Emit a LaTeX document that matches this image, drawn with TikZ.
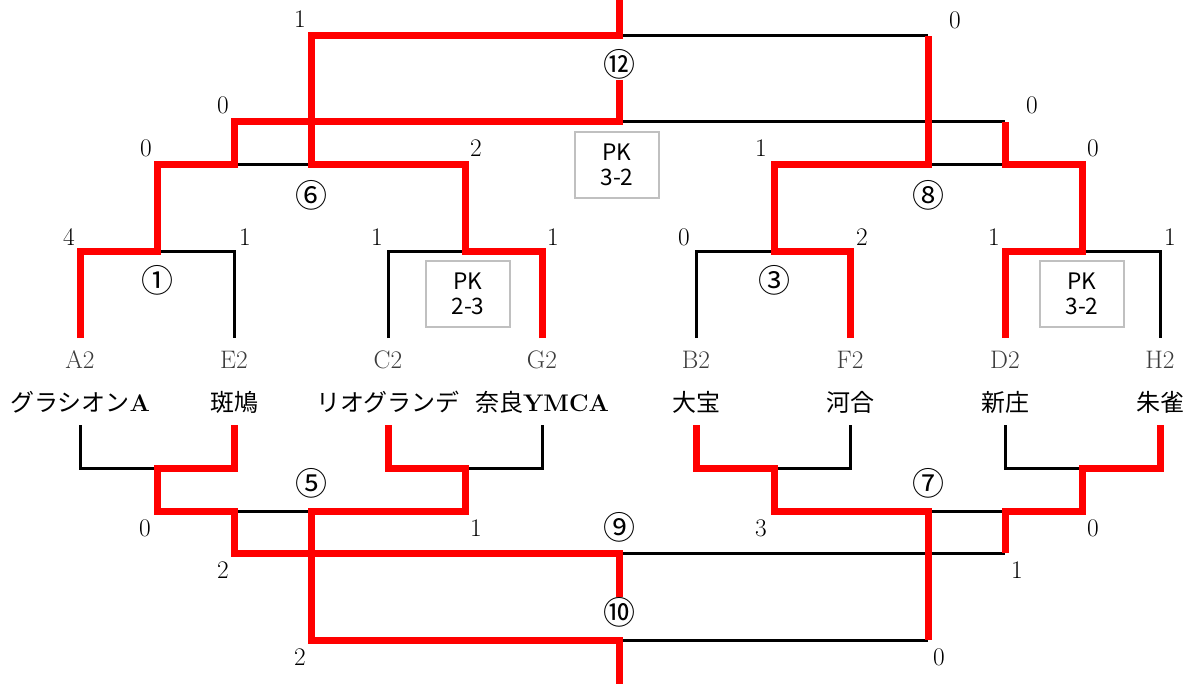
\documentclass[tikz,border=0pt]{standalone}
\usepackage{fontspec}
\usepackage{xcolor}
\usepackage{tikz}
\newfontfamily\jpfont{Noto Sans CJK JP}
\definecolor{winRed}{RGB}{255, 0, 0}
\definecolor{boxGray}{RGB}{192, 192, 192}
\definecolor{codeGray}{RGB}{60, 60, 60}
\newcommand{\latn}[1]{{\rmfamily\bfseries #1}}

\begin{document}
\begin{tikzpicture}[x=0.75pt, y=-0.75pt, line join=miter,
    lose/.style={line width=2.25pt, black},
    win/.style={line width=5.25pt, winRed},
    score/.style={inner sep=0pt, font=\fontsize{19}{19}\selectfont},
    code/.style={inner sep=0pt, text=codeGray, font=\fontsize{19}{19}\selectfont},
    team/.style={inner sep=0pt, font=\jpfont\fontsize{18}{18}\selectfont},
    matchno/.style={inner sep=0pt, font=\jpfont\fontsize{24}{24}\selectfont},
    pkbox/.style={draw=boxGray, line width=1.5pt, align=center, inner sep=0pt,
        minimum width=63pt, minimum height=50pt,
        font=\jpfont\fontsize{17}{19}\selectfont}]
\useasboundingbox (0,0) rectangle (1192,684);

% Teams
\foreach \x/\c/\t [count=\i] in {80/A2/グラシオン\latn{A}, 234/E2/斑鳩, 388/C2/リオグランデ,
    542/G2/奈良\latn{YMCA}, 696/B2/大宝, 850/F2/河合, 1005/D2/新庄, 1160/H2/朱雀} {
    \node[code] (code\i) at (\x,360) {\c};
    \node[team] (team\i) at (\x,402) {\t};
}

% Bracket lines
\foreach \a/\b in {80/234, 388/542, 696/850, 1005/1160} {
    \draw[lose] (\a,338) |- (\b,252) -- (\b,338);
    \draw[lose] (\a,425) |- (\b,468) -- (\b,425);
}
\draw[lose] (157,165) -- (465,165);
\draw[lose] (774,165) -- (1082,165);
\draw[lose] (234,122) -- (1005,122);
\draw[lose] (311,36) -- (928,36);
\draw[lose] (157,511) -- (465,511);
\draw[lose] (774,511) -- (1082,511);
\draw[lose] (234,553) -- (1005,553);
\draw[lose] (311,640) -- (928,640);

% Winners (top)
\draw[win] (80,338) |- (157,252) -- (157,165) -- (234,165) -- (234,122) -- (619,122) -- (619,80);
\draw[win] (542,338) |- (465,252) -- (465,165) -- (311,165) -- (311,36) -- (619,36) -- (619,0);
\draw[win] (850,338) |- (774,252) -- (774,165) -- (928,165) -- (928,36);
\draw[win] (1005,338) |- (1082,252) -- (1082,165) -- (1005,165) -- (1005,122);

% Winners (bottom)
\draw[win] (234,425) |- (157,468) -- (157,511) -- (234,511) -- (234,553) -- (619,553) -- (619,597);
\draw[win] (388,425) |- (465,468) -- (465,511) -- (311,511) -- (311,640) -- (619,640) -- (619,684);
\draw[win] (696,425) |- (774,468) -- (774,511) -- (928,511) -- (928,640);
\draw[win] (1160,425) |- (1082,468) -- (1082,511) -- (1005,511) -- (1005,553);

% Scores
\foreach \x/\y/\s [count=\i] in {300/19/1, 955/20/0, 223/105/0, 1032/105/0,
    146/148/0, 476/148/2, 761/148/1, 1093/148/0,
    69/237/4, 245/237/1, 377/237/1, 553/237/1, 684/237/0, 862/237/2, 994/237/1, 1170/237/1,
    145/528/0, 476/528/1, 761/528/3, 1093/528/0,
    223/570/2, 1017/570/1, 300/657/2, 939/657/0} {
    \node[score] (sc\i) at (\x,\y) {\s};
}

% Match numbers
\foreach \x/\y/\m in {157/280/①, 774/280/③, 311/195/⑥, 928/195/⑧, 619/64/⑫,
    311/483/⑤, 928/483/⑦, 619/527/⑨, 619/612/⑩} {
    \node[matchno] (m\m) at (\x,\y) {\m};
}

% Penalty shoot-outs
\node[pkbox] (pk2) at (468,294) {PK\\2-3};
\node[pkbox] (pk4) at (1082,294) {PK\\3-2};
\node[pkbox] (pk12) at (617,165) {PK\\3-2};
\end{tikzpicture}
\end{document}
